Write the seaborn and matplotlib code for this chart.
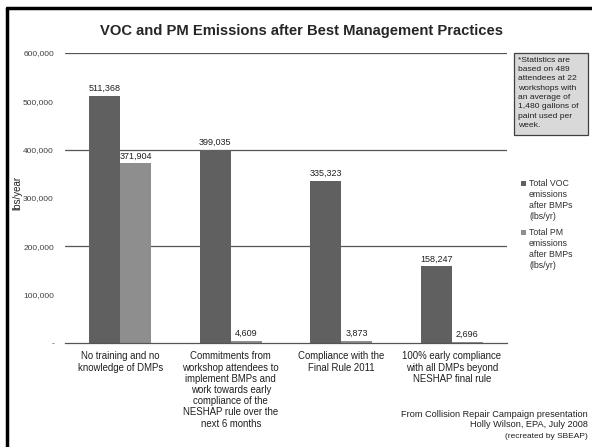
import seaborn as sns
import matplotlib.pyplot as plt
import pandas as pd
from matplotlib.lines import Line2D
from matplotlib.patches import Rectangle

# data
categories = [
    "No training and no\nknowledge of DMPs",
    "Commitments from\nworkshop attendees to\nimplement BMPs and\nwork towards early\ncompliance of the\nNESHAP rule over the\nnext 6 months",
    "Compliance with the\nFinal Rule 2011",
    "100% early compliance\nwith all DMPs beyond\nNESHAP final rule",
]
voc = [511368, 399035, 335323, 158247]
pm = [371904, 4609, 3873, 2696]
series = ["Total VOC\nemissions\nafter BMPs\n(lbs/yr)", "Total PM\nemissions\nafter BMPs\n(lbs/yr)"]
yticks = [0, 100000, 200000, 300000, 400000, 500000, 600000]
ytick_labels = ["-", "100,000", "200,000", "300,000", "400,000", "500,000", "600,000"]

df = pd.DataFrame({
    "category": categories * 2,
    "series": [series[0]] * 4 + [series[1]] * 4,
    "value": voc + pm,
})

sns.set_style("white")
plt.rcParams["font.family"] = ["Liberation Sans", "DejaVu Sans"]

fig = plt.figure(figsize=(5.92, 4.47), dpi=100)
ax = fig.add_axes([0.1098, 0.2327, 0.7466, 0.6488])

colors = ["#606060", "#8e8e8e"]
sns.barplot(data=df, x="category", y="value", hue="series", order=categories,
            hue_order=series, palette=colors, width=0.56, gap=0,
            saturation=1, linewidth=0, ax=ax, legend=False)

ax.set_ylim(0, 600000)
ax.set_yticks(yticks)
ax.set_yticklabels(ytick_labels, fontsize=6, color="#404040")
ax.tick_params(axis="both", length=0, pad=8)
ax.tick_params(axis="x", labelsize=6.9, colors="#202020", pad=6)
for t in ax.get_xticklabels():
    t.set_linespacing(1.15)

for yv in [200000, 400000, 600000]:
    ax.axhline(yv, color="#555555", lw=0.9, zorder=0)
ax.set_xlim(-0.5, 3.5)

for s in ["top", "right", "left"]:
    ax.spines[s].set_visible(False)
ax.spines["bottom"].set_color("#555555")
ax.spines["bottom"].set_linewidth(0.9)

ax.set_xlabel("")
ax.set_ylabel("")
fig.text(17 / 592, 1 - 193 / 447, "lbs/year", rotation=90, ha="center", va="center",
         fontsize=7, color="#202020")

for cont in ax.containers:
    for bar in cont:
        h = bar.get_height()
        box = dict(facecolor="white", edgecolor="none", pad=1) if h < 50000 else None
        ax.text(bar.get_x() + bar.get_width() / 2, h + 6000, f"{h:,.0f}",
                ha="center", va="bottom", fontsize=6.5, color="#202020", bbox=box)

fig.text(302 / 592, 1 - 31 / 447, "VOC and PM Emissions after Best Management Practices",
         ha="center", va="center", fontsize=10.6, fontweight="bold")

# notes box
fig.patches.append(Rectangle((514 / 592, 1 - 135 / 447), 74 / 592, 82 / 447,
                             transform=fig.transFigure, facecolor="#d9d9d9",
                             edgecolor="#404040", lw=0.9))
fig.text(518 / 592, 1 - 57 / 447,
         "*Statistics are\nbased on 489\nattendees at 22\nworkshops with\nan average of\n1,480 gallons of\npaint used per\nweek.",
         ha="left", va="top", fontsize=6.1, color="#202020", linespacing=1.45)

# legend, drawn by hand so the square sits beside the first line
legend_tops = [179, 228]
for c, lab, ytop in zip(colors, series, legend_tops):
    fig.add_artist(Rectangle((521 / 592, 1 - (ytop + 7) / 447), 5 / 592, 5 / 447,
                             transform=fig.transFigure, facecolor=c, edgecolor="none"))
    fig.text(529 / 592, 1 - ytop / 447, lab, ha="left", va="top", fontsize=6.3,
             color="#303030", linespacing=1.3)

fig.text(588 / 592, 1 - 410 / 447,
         "From Collision Repair Campaign presentation\nHolly Wilson, EPA, July 2008",
         ha="right", va="top", fontsize=6.6, color="#202020", linespacing=1.2)
fig.text(588 / 592, 1 - 433 / 447, "(recreated by SBEAP)",
         ha="right", va="top", fontsize=6, color="#202020")

# black frame on the left and top
fig.add_artist(Line2D([7 / 592, 7 / 592], [0, 1 - 8 / 447], transform=fig.transFigure,
                      color="black", lw=2.5))
fig.add_artist(Line2D([7 / 592, 1], [1 - 8 / 447, 1 - 8 / 447], transform=fig.transFigure,
                      color="black", lw=2.5))

fig.savefig("out.png", dpi=100)
